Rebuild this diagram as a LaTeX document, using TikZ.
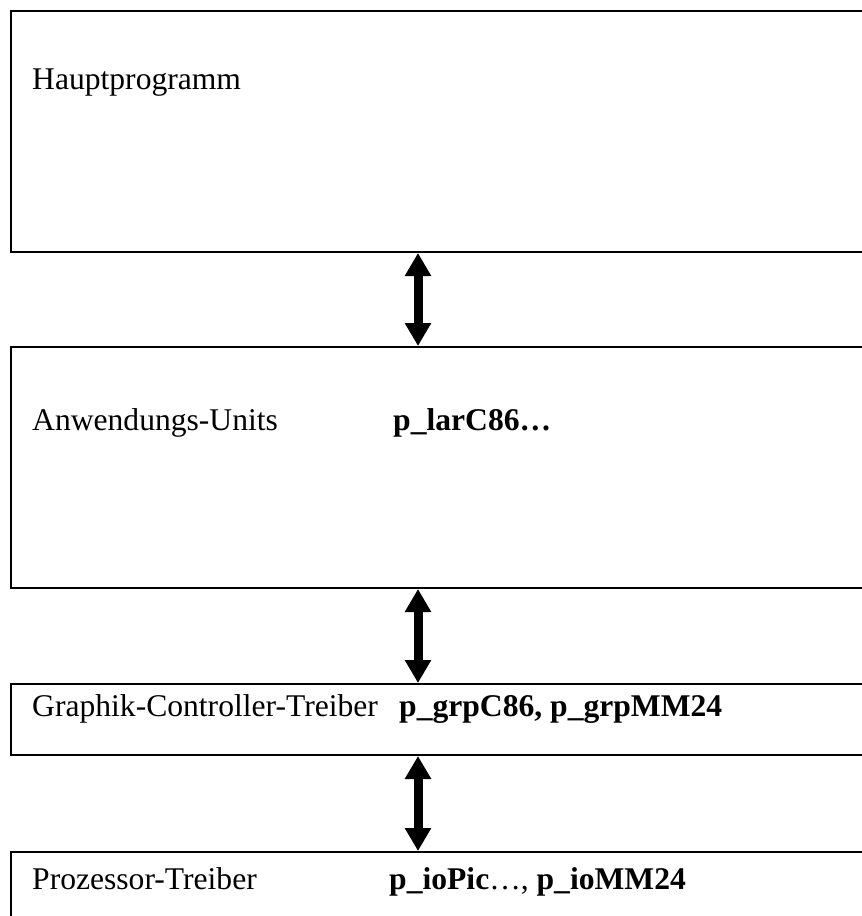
\documentclass[tikz,border=0pt]{standalone}
\usepackage{fontspec}
\setmainfont{Liberation Serif}
\usetikzlibrary{arrows.meta}
\begin{document}
\begin{tikzpicture}[x=1pt,y=-1pt,
  layerbox/.style={draw=black,line width=2pt,rectangle,inner sep=0pt,anchor=north west,minimum width=1000pt},
  lbl/.style={anchor=base west,inner sep=0pt,font=\fontsize{31.6}{38}\selectfont},
  dbl/.style={line width=9pt,{Triangle[width=25pt,length=23pt]}-{Triangle[width=25pt,length=23pt]}}]
\useasboundingbox (0,0) rectangle (862,916);
\clip (0,0) rectangle (862,916);
\fill[white] (0,0) rectangle (862,916);
\node[layerbox,minimum height=241pt] (b1) at (10,10) {};
\node[layerbox,minimum height=241pt] (b2) at (10,346) {};
\node[layerbox,minimum height=71pt] (b3) at (10,683) {};
\node[layerbox,minimum height=100pt] (b4) at (10,851) {};
\node[lbl] (t1) at (32,89) {Hauptprogramm};
\node[lbl] (t2) at (32,430) {Anwendungs-Units};
\node[lbl] (u2) at (393,430) {\textbf{p\_larC86…}};
\node[lbl] (t3) at (32,716) {Graphik-Controller-Treiber};
\node[lbl] (u3) at (399,716) {\textbf{p\_grpC86, p\_grpMM24}};
\node[lbl] (t4) at (32,889) {Prozessor-Treiber};
\node[lbl] (u4) at (389,889) {\textbf{p\_ioPic}…, \textbf{p\_ioMM24}};
\coordinate (ax) at (418,0);
\draw[dbl] (b1.south -| ax) -- (b2.north -| ax);
\draw[dbl] (b2.south -| ax) -- (b3.north -| ax);
\draw[dbl] (b3.south -| ax) -- (b4.north -| ax);
\end{tikzpicture}
\end{document}
